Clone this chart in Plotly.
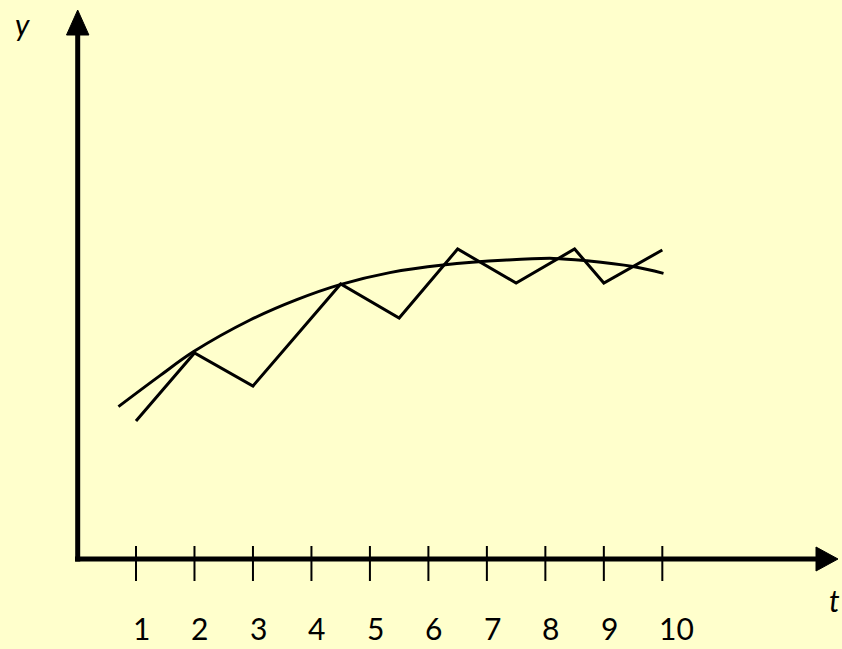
import plotly.graph_objects as go

# ---- data ----
tick_values = [1, 2, 3, 4, 5, 6, 7, 8, 9, 10]
tick_labels = ["1", "2", "3", "4", "5", "6", "7", "8", "9", "10"]

t_observed = [1, 2, 3, 4.5, 5.5, 6.5, 7.5, 8.5, 9, 10]
y_observed = [6.9, 10.3, 8.65, 13.75, 12.05, 15.5, 13.8, 15.5, 13.8, 15.45]

t_trend = [0.70, 1.41, 1.98, 2.95, 3.75, 4.49, 5.34, 6.25, 7.34, 8.14, 8.71, 9.50, 10.02]
y_trend = [7.62, 9.17, 10.36, 11.95, 12.97, 13.72, 14.32, 14.70, 14.95, 15.03, 14.91, 14.62, 14.28]

# ---- layout geometry ----
W, H = 842, 649
BG = "#FFFFCC"
X_PX_PER_UNIT = 58.48
X0 = 1 - 136 / X_PX_PER_UNIT
X1 = X0 + W / X_PX_PER_UNIT
Y_PX_PER_UNIT = 20.0
ORIGIN_PX_Y = 559
Y0 = -(H - ORIGIN_PX_Y) / Y_PX_PER_UNIT
Y1 = ORIGIN_PX_Y / Y_PX_PER_UNIT


def dx(px):
    return X0 + px / X_PX_PER_UNIT


def dy(py):
    return (ORIGIN_PX_Y - py) / Y_PX_PER_UNIT


FONT = "Liberation Sans Narrow, Lato, sans-serif"

fig = go.Figure()

fig.add_trace(go.Scatter(
    x=t_trend, y=y_trend, mode="lines",
    line=dict(color="black", width=3, shape="spline", smoothing=1.0),
    hoverinfo="skip", showlegend=False,
))
fig.add_trace(go.Scatter(
    x=t_observed, y=y_observed, mode="lines",
    line=dict(color="black", width=3),
    hoverinfo="skip", showlegend=False,
))

shapes = []
# x axis line
shapes.append(dict(type="line", xref="x", yref="y", x0=dx(75), x1=dx(820), y0=0, y1=0,
                   line=dict(color="black", width=5)))
# y axis line
shapes.append(dict(type="line", xref="x", yref="y", x0=dx(77.7), x1=dx(77.7), y0=dy(561.5), y1=dy(30),
                   line=dict(color="black", width=5)))
# arrow heads
shapes.append(dict(type="path", xref="x", yref="y",
                   path=f"M {dx(838)} {dy(559)} L {dx(816)} {dy(547)} L {dx(816)} {dy(571)} Z",
                   fillcolor="black", line=dict(color="black", width=1)))
shapes.append(dict(type="path", xref="x", yref="y",
                   path=f"M {dx(77.7)} {dy(10)} L {dx(66.5)} {dy(35)} L {dx(88.9)} {dy(35)} Z",
                   fillcolor="black", line=dict(color="black", width=1)))
# tick marks
for tv in tick_values:
    shapes.append(dict(type="line", xref="x", yref="y", x0=tv, x1=tv, y0=dy(546), y1=dy(581),
                       line=dict(color="black", width=2)))

annotations = []
for tv, tl in zip(tick_values, tick_labels):
    annotations.append(dict(x=tv, y=dy(648), xref="x", yref="y", text=tl, showarrow=False,
                            xanchor="left", yanchor="bottom", xshift=-5,
                            font=dict(family=FONT, size=30, color="black")))
annotations.append(dict(x=dx(22), y=dy(24), xref="x", yref="y", text="<i>y</i>", showarrow=False,
                        xanchor="center", yanchor="middle",
                        font=dict(family=FONT, size=30, color="black")))
annotations.append(dict(x=dx(842), y=dy(600), xref="x", yref="y", text="<i>t</i>", showarrow=False,
                        xanchor="right", yanchor="middle",
                        font=dict(family=FONT, size=30, color="black")))

fig.update_layout(
    width=W, height=H, autosize=False,
    margin=dict(l=0, r=0, t=0, b=0),
    paper_bgcolor=BG, plot_bgcolor=BG,
    xaxis=dict(range=[X0, X1], visible=False, fixedrange=True),
    yaxis=dict(range=[Y0, Y1], visible=False, fixedrange=True),
    shapes=shapes, annotations=annotations,
    showlegend=False,
)

fig.write_html("out.html", config={"displayModeBar": False},
               post_script="document.body.style.margin='0';document.body.style.overflow='hidden';")
